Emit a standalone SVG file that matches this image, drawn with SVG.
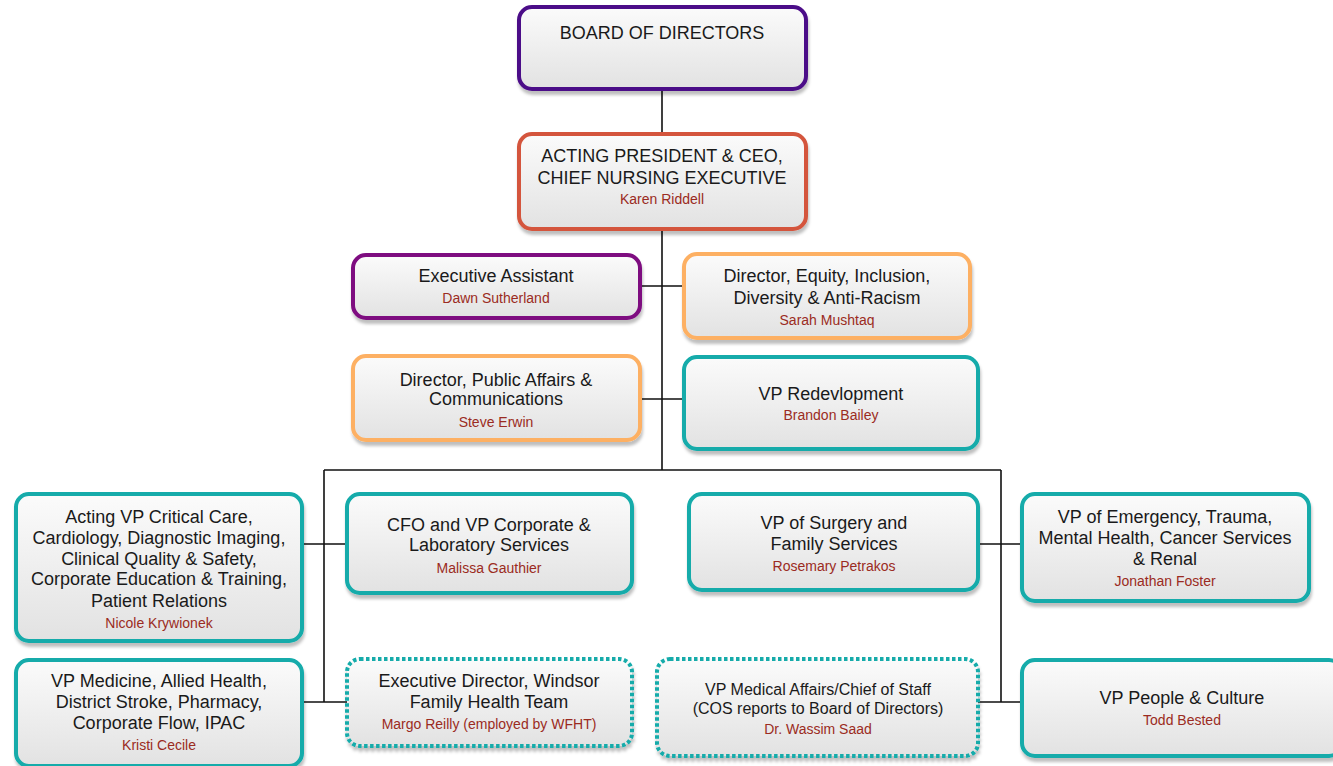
<svg xmlns="http://www.w3.org/2000/svg" width="1333" height="766" viewBox="0 0 1333 766">
<defs>
<linearGradient id="fillg" x1="0" y1="0" x2="0" y2="1">
<stop offset="0" stop-color="#fbfbfb"/>
<stop offset="1" stop-color="#e2e2e2"/>
</linearGradient>
<filter id="sh" x="-10%" y="-10%" width="120%" height="130%">
<feDropShadow dx="1" dy="4" stdDeviation="1.5" flood-color="#000" flood-opacity="0.25"/>
</filter>
<style>
.box{fill:url(#fillg);stroke-width:4;filter:url(#sh)}
.indigo{stroke:#4b0a88}
.purple{stroke:#7e0a80}
.red{stroke:#d4553d}
.orange{stroke:#fdb063}
.teal{stroke:#12abaa}
.dot{stroke:#12abaa;stroke-dasharray:3.5 2.5}
.t{font-family:"Liberation Sans",Arial,sans-serif;font-size:18px;fill:#1a1a1a;text-anchor:middle}
.ts{font-family:"Liberation Sans",Arial,sans-serif;font-size:16px;fill:#1a1a1a;text-anchor:middle}
.n{font-family:"Liberation Sans",Arial,sans-serif;font-size:14px;fill:#9b2b22;text-anchor:middle}
.c{stroke:#111;stroke-width:1.6;fill:none}
</style>
</defs>
<g id="connectors">
<path class="c" d="M662 89V134M662 229V470M640 286H684M640 399H684M324 470H1001M324 470V702M1001 470V702M302 544H347M978 544H1022M302 702H347M978 702H1022"/>
</g>
<g id="board">
<rect class="box indigo" x="519" y="7" width="287" height="82" rx="13"/>
<text class="t" x="662" y="39">BOARD OF DIRECTORS</text>
</g>
<g id="ceo">
<rect class="box red" x="519" y="134" width="287" height="95" rx="13"/>
<text class="t" x="662" y="162">ACTING PRESIDENT &amp; CEO,</text>
<text class="t" x="662" y="184">CHIEF NURSING EXECUTIVE</text>
<text class="n" x="662" y="204">Karen Riddell</text>
</g>
<g id="exec-assistant">
<rect class="box purple" x="353" y="255" width="287" height="63" rx="13"/>
<text class="t" x="496" y="282">Executive Assistant</text>
<text class="n" x="496" y="303">Dawn Sutherland</text>
</g>
<g id="director-equity">
<rect class="box orange" x="684" y="254" width="286" height="84" rx="13"/>
<text class="t" x="827" y="282">Director, Equity, Inclusion,</text>
<text class="t" x="827" y="304">Diversity &amp; Anti-Racism</text>
<text class="n" x="827" y="325">Sarah Mushtaq</text>
</g>
<g id="director-public-affairs">
<rect class="box orange" x="353" y="356" width="287" height="84" rx="13"/>
<text class="t" x="496" y="386">Director, Public Affairs &amp;</text>
<text class="t" x="496" y="405">Communications</text>
<text class="n" x="496" y="427">Steve Erwin</text>
</g>
<g id="vp-redevelopment">
<rect class="box teal" x="684" y="357" width="294" height="92" rx="13"/>
<text class="t" x="831" y="400">VP Redevlopment</text>
<text class="n" x="831" y="420">Brandon Bailey</text>
</g>
<g id="vp-critical-care">
<rect class="box teal" x="16" y="494" width="286" height="147" rx="13"/>
<text class="t" x="159" y="523">Acting VP Critical Care,</text>
<text class="t" x="159" y="544">Cardiology, Diagnostic Imaging,</text>
<text class="t" x="159" y="565">Clinical Quality &amp; Safety,</text>
<text class="t" x="159" y="585">Corporate Education &amp; Training,</text>
<text class="t" x="159" y="607">Patient Relations</text>
<text class="n" x="159" y="628">Nicole Krywionek</text>
</g>
<g id="cfo">
<rect class="box teal" x="347" y="494" width="285" height="99" rx="13"/>
<text class="t" x="489" y="531">CFO and VP Corporate &amp;</text>
<text class="t" x="489" y="551">Laboratory Services</text>
<text class="n" x="489" y="573">Malissa Gauthier</text>
</g>
<g id="vp-surgery">
<rect class="box teal" x="689" y="494" width="289" height="96" rx="13"/>
<text class="t" x="834" y="529">VP of Surgery and</text>
<text class="t" x="834" y="550">Family Services</text>
<text class="n" x="834" y="571">Rosemary Petrakos</text>
</g>
<g id="vp-emergency">
<rect class="box teal" x="1022" y="494" width="287" height="107" rx="13"/>
<text class="t" x="1165" y="523">VP of Emergency, Trauma,</text>
<text class="t" x="1165" y="544">Mental Health, Cancer Services</text>
<text class="t" x="1165" y="565">&amp; Renal</text>
<text class="n" x="1165" y="586">Jonathan Foster</text>
</g>
<g id="vp-medicine">
<rect class="box teal" x="16" y="660" width="286" height="106" rx="13"/>
<text class="t" x="159" y="687">VP Medicine, Allied Health,</text>
<text class="t" x="159" y="708">District Stroke, Pharmacy,</text>
<text class="t" x="159" y="729">Corporate Flow, IPAC</text>
<text class="n" x="159" y="750">Kristi Cecile</text>
</g>
<g id="exec-director-wfht">
<rect class="box dot" x="347" y="659" width="285" height="87" rx="13"/>
<text class="t" x="489" y="687">Executive Director, Windsor</text>
<text class="t" x="489" y="708">Family Health Team</text>
<text class="n" x="489" y="729">Margo Reilly (employed by WFHT)</text>
</g>
<g id="vp-medical-affairs">
<rect class="box dot" x="657" y="659" width="321" height="97" rx="13"/>
<text class="ts" x="818" y="695">VP Medical Affairs/Chief of Staff</text>
<text class="ts" x="818" y="714">(COS reports to Board of Directors)</text>
<text class="n" x="818" y="734">Dr. Wassim Saad</text>
</g>
<g id="vp-people">
<rect class="box teal" x="1022" y="660" width="320" height="96" rx="13"/>
<text class="t" x="1182" y="704">VP People &amp; Culture</text>
<text class="n" x="1182" y="725">Todd Bested</text>
</g>
</svg>
